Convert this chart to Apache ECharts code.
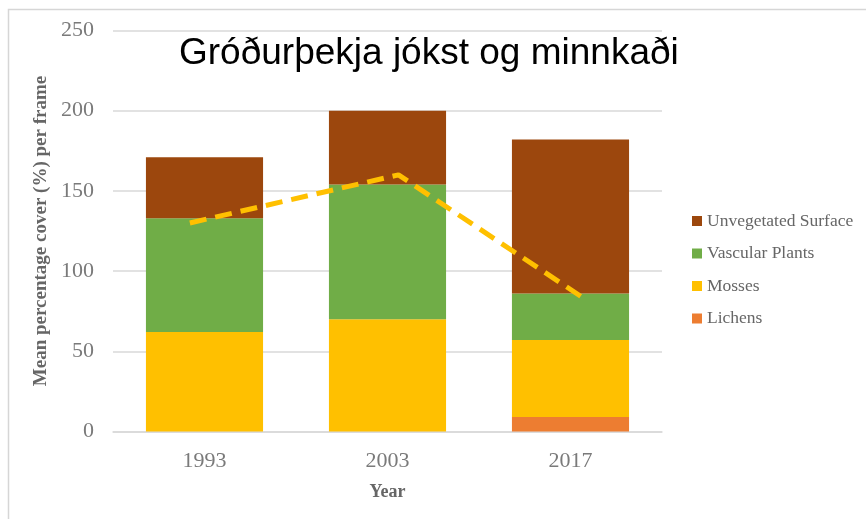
<!DOCTYPE html>
<html>
<head>
<meta charset="utf-8">
<script src="https://cdn.jsdelivr.net/npm/echarts@6/dist/echarts.min.js"></script>
<style>
  html, body { margin: 0; padding: 0; background: #fff; }
  #chart { width: 866px; height: 519px; }
</style>
</head>
<body>
<div id="chart"></div>
<script>
// data
const years = ['1993', '2003', '2017'];
const lichens = [0, 0, 9];
const mosses = [62, 70, 48];
const vascular = [71, 84, 29];
const unvegetated = [38, 46, 96];
// hand-drawn dashed trend line (x in category units, 0..3)
const trendX = [0.42, 1.56, 2.56];
const trendValues = [130, 160, 84];
const yTicks = [0, 50, 100, 150, 200, 250];

const serif = '"Liberation Serif", "DejaVu Serif", serif';
const colors = {
  unveg: '#9C470D',
  vasc: '#70AD47',
  moss: '#FFC000',
  lich: '#ED7D31'
};

const chart = echarts.init(document.getElementById('chart'));

const barSeries = (name, data, color) => ({
  name: name,
  type: 'bar',
  stack: 'cover',
  barWidth: '64%',
  itemStyle: { color: color },
  data: data
});

const option = {
  backgroundColor: '#fff',
  animation: false,
  title: {
    text: 'Gróðurþekja jókst og minnkaði',
    left: 174,
    top: 30,
    textStyle: {
      fontFamily: '"Liberation Sans", Arial, sans-serif',
      fontSize: 37,
      fontWeight: 'normal',
      color: '#000'
    }
  },
  legend: {
    orient: 'vertical',
    left: 687,
    top: 207,
    itemWidth: 10,
    itemHeight: 10,
    itemGap: 14.5,
    icon: 'rect',
    data: ['Unvegetated Surface', 'Vascular Plants', 'Mosses', 'Lichens'],
    textStyle: { fontFamily: serif, fontSize: 17.5, color: '#666' }
  },
  grid: { left: 113, right: 204, top: 30.5, bottom: 87.5 },
  xAxis: [{
    type: 'category',
    data: years,
    name: 'Year',
    nameLocation: 'middle',
    nameGap: 52,
    nameTextStyle: { fontFamily: serif, fontSize: 18, fontWeight: 'bold', color: '#666' },
    axisTick: { show: false },
    axisLine: { lineStyle: { color: '#D9D9D9', width: 1.5 } },
    axisLabel: { fontFamily: serif, fontSize: 22, color: '#7a7a7a', margin: 19 }
  }, {
    type: 'value',
    min: 0,
    max: years.length,
    show: false
  }],
  yAxis: {
    type: 'value',
    min: yTicks[0],
    max: yTicks[yTicks.length - 1],
    interval: 50,
    name: 'Mean percentage cover (%) per frame',
    nameLocation: 'middle',
    nameGap: 49,
    nameTextStyle: { fontFamily: serif, fontSize: 19, fontWeight: 'bold', color: '#666' },
    axisLine: { show: false },
    axisTick: { show: false },
    axisLabel: { fontFamily: serif, fontSize: 22, color: '#7a7a7a', margin: 19 },
    splitLine: { lineStyle: { color: '#D9D9D9', width: 1.5 } }
  },
  series: [
    barSeries('Lichens', lichens, colors.lich),
    barSeries('Mosses', mosses, colors.moss),
    barSeries('Vascular Plants', vascular, colors.vasc),
    barSeries('Unvegetated Surface', unvegetated, colors.unveg),
    {
      name: 'trend',
      type: 'line',
      xAxisIndex: 1,
      symbol: 'none',
      z: 5,
      lineStyle: { color: '#FFC000', width: 5, type: [17, 9] },
      data: trendX.map((x, i) => [x, trendValues[i]])
    }
  ],
  graphic: [{
    type: 'rect',
    shape: { x: 8.5, y: 9.5, width: 880, height: 530 },
    style: { fill: null, stroke: '#D6D6D6', lineWidth: 1.5 },
    silent: true
  }]
};

chart.setOption(option);
</script>
</body>
</html>
